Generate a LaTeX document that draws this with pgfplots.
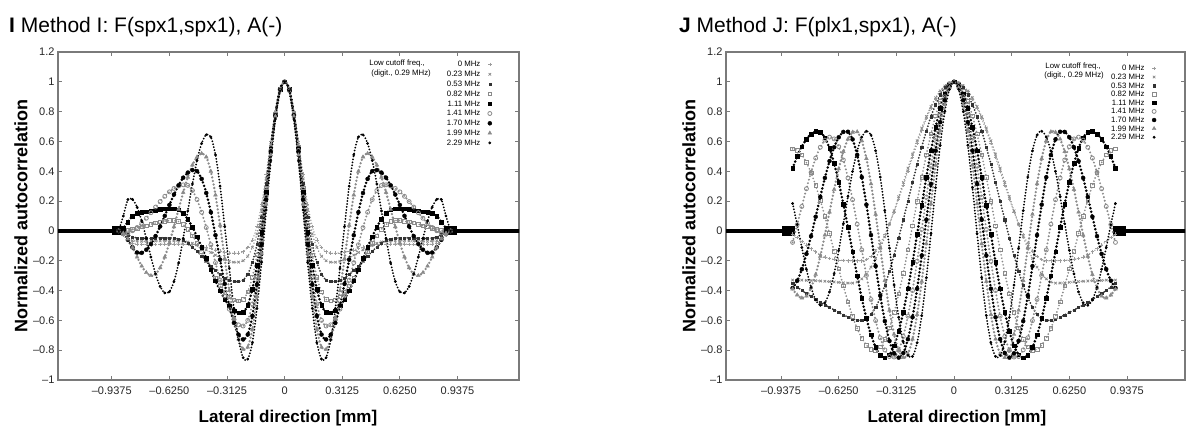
\documentclass[border=0pt]{standalone}
\usepackage{fontspec}
\setmainfont{Liberation Sans}
\usepackage{pgfplots}
\usepackage{pgfplotstable}
\pgfplotsset{compat=1.18}
\definecolor{mgray}{HTML}{8A8A8A}
\definecolor{framegray}{HTML}{7A7A7A}

\pgfplotstableread{
x a b c d e f g h i
-0.900 0 0 0 0 0 0 0 0 0
-0.875 -0.03 -0.025 -0.01 0.001 0.02 -0.02 -0.005 -0.015 0.10
-0.850 -0.06 -0.05 -0.025 0.005 0.06 -0.014 -0.06 -0.054 0.21
-0.825 -0.08 -0.065 -0.04 0.01 0.10 0.001 -0.11 -0.111 0.211
-0.800 -0.088 -0.068 -0.048 0.018 0.12 0.023 -0.145 -0.176 0.159
-0.775 -0.09 -0.07 -0.05 0.027 0.125 0.052 -0.147 -0.236 0.067
-0.750 -0.092 -0.07 -0.051 0.035 0.13 0.085 -0.126 -0.28 -0.05
-0.725 -0.093 -0.069 -0.05 0.045 0.135 0.122 -0.088 -0.30 -0.175
-0.700 -0.092 -0.068 -0.048 0.053 0.14 0.16 -0.035 -0.289 -0.288
-0.675 -0.09 -0.067 -0.047 0.06 0.145 0.197 0.03 -0.247 -0.373
-0.650 -0.088 -0.066 -0.047 0.066 0.148 0.232 0.101 -0.175 -0.416
-0.625 -0.087 -0.066 -0.048 0.069 0.15 0.262 0.174 -0.081 -0.408
-0.600 -0.087 -0.067 -0.05 0.07 0.15 0.285 0.244 0.028 -0.339
-0.575 -0.088 -0.068 -0.054 0.063 0.142 0.301 0.306 0.145 -0.215
-0.550 -0.09 -0.07 -0.065 0.043 0.117 0.309 0.357 0.258 -0.05
-0.525 -0.09 -0.074 -0.084 0.011 0.078 0.305 0.391 0.36 0.134
-0.500 -0.09 -0.083 -0.108 -0.032 0.025 0.271 0.408 0.442 0.315
-0.475 -0.094 -0.095 -0.137 -0.083 -0.038 0.21 0.401 0.496 0.473
-0.450 -0.10 -0.11 -0.168 -0.14 -0.109 0.125 0.349 0.519 0.587
-0.425 -0.109 -0.127 -0.202 -0.20 -0.185 0.022 0.254 0.496 0.645
-0.400 -0.118 -0.145 -0.235 -0.26 -0.261 -0.093 0.125 0.399 0.63
-0.375 -0.127 -0.163 -0.265 -0.317 -0.334 -0.213 -0.029 0.241 0.51
-0.350 -0.135 -0.18 -0.293 -0.368 -0.401 -0.33 -0.193 0.038 0.30
-0.325 -0.142 -0.193 -0.315 -0.411 -0.458 -0.436 -0.355 -0.186 0.03
-0.300 -0.147 -0.204 -0.33 -0.443 -0.503 -0.525 -0.50 -0.40 -0.25
-0.275 -0.15 -0.21 -0.338 -0.463 -0.534 -0.592 -0.617 -0.59 -0.52
-0.250 -0.15 -0.21 -0.34 -0.47 -0.549 -0.63 -0.696 -0.726 -0.73
-0.225 -0.14 -0.20 -0.33 -0.46 -0.545 -0.638 -0.728 -0.794 -0.85
-0.200 -0.11 -0.17 -0.29 -0.41 -0.50 -0.60 -0.695 -0.78 -0.86
-0.175 -0.06 -0.11 -0.21 -0.31 -0.39 -0.49 -0.57 -0.66 -0.75
-0.150 0.03 -0.02 -0.09 -0.16 -0.23 -0.31 -0.36 -0.44 -0.52
-0.125 0.18 0.14 0.09 0.04 -0.01 -0.06 -0.09 -0.15 -0.21
-0.100 0.38 0.35 0.32 0.29 0.26 0.23 0.21 0.18 0.14
-0.075 0.60 0.58 0.57 0.56 0.55 0.54 0.53 0.51 0.47
-0.050 0.80 0.79 0.79 0.785 0.78 0.78 0.775 0.77 0.75
-0.025 0.95 0.95 0.95 0.95 0.95 0.95 0.945 0.94 0.94
0.000 1 1 1 1 1 1 1 1 1
0.025 0.95 0.95 0.95 0.95 0.95 0.95 0.945 0.94 0.94
0.050 0.80 0.79 0.79 0.785 0.78 0.78 0.775 0.77 0.75
0.075 0.60 0.58 0.57 0.56 0.55 0.54 0.53 0.51 0.47
0.100 0.38 0.35 0.32 0.29 0.26 0.23 0.21 0.18 0.14
0.125 0.18 0.14 0.09 0.04 -0.01 -0.06 -0.09 -0.15 -0.21
0.150 0.03 -0.02 -0.09 -0.16 -0.23 -0.31 -0.36 -0.44 -0.52
0.175 -0.06 -0.11 -0.21 -0.31 -0.39 -0.49 -0.57 -0.66 -0.75
0.200 -0.11 -0.17 -0.29 -0.41 -0.50 -0.60 -0.695 -0.78 -0.86
0.225 -0.14 -0.20 -0.33 -0.46 -0.545 -0.638 -0.728 -0.794 -0.85
0.250 -0.15 -0.21 -0.34 -0.47 -0.549 -0.63 -0.696 -0.726 -0.73
0.275 -0.15 -0.21 -0.338 -0.463 -0.534 -0.592 -0.617 -0.59 -0.52
0.300 -0.147 -0.204 -0.33 -0.443 -0.503 -0.525 -0.50 -0.40 -0.25
0.325 -0.142 -0.193 -0.315 -0.411 -0.458 -0.436 -0.355 -0.186 0.03
0.350 -0.135 -0.18 -0.293 -0.368 -0.401 -0.33 -0.193 0.038 0.30
0.375 -0.127 -0.163 -0.265 -0.317 -0.334 -0.213 -0.029 0.241 0.51
0.400 -0.118 -0.145 -0.235 -0.26 -0.261 -0.093 0.125 0.399 0.63
0.425 -0.109 -0.127 -0.202 -0.20 -0.185 0.022 0.254 0.496 0.645
0.450 -0.10 -0.11 -0.168 -0.14 -0.109 0.125 0.349 0.519 0.587
0.475 -0.094 -0.095 -0.137 -0.083 -0.038 0.21 0.401 0.496 0.473
0.500 -0.09 -0.083 -0.108 -0.032 0.025 0.271 0.408 0.442 0.315
0.525 -0.09 -0.074 -0.084 0.011 0.078 0.305 0.391 0.36 0.134
0.550 -0.09 -0.07 -0.065 0.043 0.117 0.309 0.357 0.258 -0.05
0.575 -0.088 -0.068 -0.054 0.063 0.142 0.301 0.306 0.145 -0.215
0.600 -0.087 -0.067 -0.05 0.07 0.15 0.285 0.244 0.028 -0.339
0.625 -0.087 -0.066 -0.048 0.069 0.15 0.262 0.174 -0.081 -0.408
0.650 -0.088 -0.066 -0.047 0.066 0.148 0.232 0.101 -0.175 -0.416
0.675 -0.09 -0.067 -0.047 0.06 0.145 0.197 0.03 -0.247 -0.373
0.700 -0.092 -0.068 -0.048 0.053 0.14 0.16 -0.035 -0.289 -0.288
0.725 -0.093 -0.069 -0.05 0.045 0.135 0.122 -0.088 -0.30 -0.175
0.750 -0.092 -0.07 -0.051 0.035 0.13 0.085 -0.126 -0.28 -0.05
0.775 -0.09 -0.07 -0.05 0.027 0.125 0.052 -0.147 -0.236 0.067
0.800 -0.088 -0.068 -0.048 0.018 0.12 0.023 -0.145 -0.176 0.159
0.825 -0.08 -0.065 -0.04 0.01 0.10 0.001 -0.11 -0.111 0.211
0.850 -0.06 -0.05 -0.025 0.005 0.06 -0.014 -0.06 -0.054 0.21
0.875 -0.03 -0.025 -0.01 0.001 0.02 -0.02 -0.005 -0.015 0.10
0.900 0 0 0 0 0 0 0 0 0
}\tabL

\pgfplotstableread{
x a b c d e f g h i
-0.875 -0.02 -0.33 -0.35 0.55 0.42 -0.077 -0.383 -0.39 0.184
-0.850 -0.045 -0.33 -0.375 0.54 0.50 0.042 -0.334 -0.43 0.042
-0.825 -0.07 -0.33 -0.40 0.509 0.565 0.164 -0.257 -0.45 -0.111
-0.800 -0.095 -0.332 -0.42 0.458 0.615 0.283 -0.154 -0.437 -0.257
-0.775 -0.12 -0.333 -0.44 0.389 0.65 0.393 -0.035 -0.382 -0.379
-0.750 -0.14 -0.334 -0.46 0.304 0.668 0.488 0.095 -0.292 -0.463
-0.725 -0.16 -0.336 -0.48 0.206 0.664 0.561 0.228 -0.17 -0.499
-0.700 -0.175 -0.338 -0.497 0.097 0.626 0.609 0.355 -0.028 -0.482
-0.675 -0.185 -0.34 -0.513 -0.018 0.554 0.629 0.468 0.126 -0.409
-0.650 -0.19 -0.342 -0.53 -0.137 0.453 0.617 0.561 0.277 -0.288
-0.625 -0.195 -0.345 -0.547 -0.255 0.326 0.565 0.628 0.416 -0.13
-0.600 -0.198 -0.348 -0.563 -0.369 0.181 0.476 0.664 0.532 0.048
-0.575 -0.20 -0.35 -0.578 -0.476 0.024 0.355 0.665 0.616 0.231
-0.550 -0.20 -0.35 -0.59 -0.572 -0.139 0.209 0.614 0.662 0.399
-0.525 -0.20 -0.343 -0.598 -0.654 -0.30 0.045 0.509 0.665 0.536
-0.500 -0.20 -0.322 -0.60 -0.719 -0.451 -0.128 0.36 0.605 0.629
-0.475 -0.193 -0.289 -0.59 -0.766 -0.586 -0.299 0.176 0.485 0.669
-0.450 -0.171 -0.243 -0.561 -0.793 -0.697 -0.46 -0.028 0.316 0.643
-0.425 -0.135 -0.185 -0.513 -0.80 -0.781 -0.602 -0.236 0.111 0.537
-0.400 -0.085 -0.117 -0.447 -0.778 -0.833 -0.717 -0.434 -0.113 0.361
-0.375 -0.024 -0.04 -0.366 -0.728 -0.85 -0.798 -0.605 -0.333 0.136
-0.350 0.047 0.045 -0.27 -0.651 -0.83 -0.843 -0.738 -0.533 -0.116
-0.325 0.128 0.135 -0.163 -0.548 -0.77 -0.846 -0.821 -0.694 -0.363
-0.300 0.215 0.229 -0.047 -0.423 -0.673 -0.801 -0.85 -0.802 -0.58
-0.275 0.306 0.325 0.075 -0.283 -0.544 -0.708 -0.819 -0.849 -0.744
-0.250 0.40 0.421 0.20 -0.128 -0.388 -0.572 -0.726 -0.825 -0.835
-0.225 0.494 0.515 0.325 0.034 -0.211 -0.40 -0.579 -0.726 -0.842
-0.200 0.585 0.605 0.447 0.199 -0.022 -0.203 -0.388 -0.561 -0.75
-0.175 0.672 0.69 0.563 0.359 0.172 0.01 -0.165 -0.339 -0.568
-0.150 0.753 0.767 0.67 0.511 0.361 0.226 0.075 -0.086 -0.314
-0.125 0.824 0.835 0.766 0.65 0.538 0.434 0.315 0.182 -0.018
-0.100 0.885 0.893 0.847 0.771 0.694 0.622 0.538 0.441 0.29
-0.075 0.935 0.939 0.913 0.869 0.823 0.781 0.729 0.67 0.574
-0.050 0.971 0.972 0.961 0.94 0.92 0.90 0.876 0.847 0.801
-0.025 0.993 0.993 0.99 0.985 0.98 0.975 0.968 0.961 0.949
0.000 1 1 1 1 1 1 1 1 1
0.025 0.993 0.993 0.99 0.985 0.98 0.975 0.968 0.961 0.949
0.050 0.971 0.972 0.961 0.94 0.92 0.90 0.876 0.847 0.801
0.075 0.935 0.939 0.913 0.869 0.823 0.781 0.729 0.67 0.574
0.100 0.885 0.893 0.847 0.771 0.694 0.622 0.538 0.441 0.29
0.125 0.824 0.835 0.766 0.65 0.538 0.434 0.315 0.182 -0.018
0.150 0.753 0.767 0.67 0.511 0.361 0.226 0.075 -0.086 -0.314
0.175 0.672 0.69 0.563 0.359 0.172 0.01 -0.165 -0.339 -0.568
0.200 0.585 0.605 0.447 0.199 -0.022 -0.203 -0.388 -0.561 -0.75
0.225 0.494 0.515 0.325 0.034 -0.211 -0.40 -0.579 -0.726 -0.842
0.250 0.40 0.421 0.20 -0.128 -0.388 -0.572 -0.726 -0.825 -0.835
0.275 0.306 0.325 0.075 -0.283 -0.544 -0.708 -0.819 -0.849 -0.744
0.300 0.215 0.229 -0.047 -0.423 -0.673 -0.801 -0.85 -0.802 -0.58
0.325 0.128 0.135 -0.163 -0.548 -0.77 -0.846 -0.821 -0.694 -0.363
0.350 0.047 0.045 -0.27 -0.651 -0.83 -0.843 -0.738 -0.533 -0.116
0.375 -0.024 -0.04 -0.366 -0.728 -0.85 -0.798 -0.605 -0.333 0.136
0.400 -0.085 -0.117 -0.447 -0.778 -0.833 -0.717 -0.434 -0.113 0.361
0.425 -0.135 -0.185 -0.513 -0.80 -0.781 -0.602 -0.236 0.111 0.537
0.450 -0.171 -0.243 -0.561 -0.793 -0.697 -0.46 -0.028 0.316 0.643
0.475 -0.193 -0.289 -0.59 -0.766 -0.586 -0.299 0.176 0.485 0.669
0.500 -0.20 -0.322 -0.60 -0.719 -0.451 -0.128 0.36 0.605 0.629
0.525 -0.20 -0.343 -0.598 -0.654 -0.30 0.045 0.509 0.665 0.536
0.550 -0.20 -0.35 -0.59 -0.572 -0.139 0.209 0.614 0.662 0.399
0.575 -0.20 -0.35 -0.578 -0.476 0.024 0.355 0.665 0.616 0.231
0.600 -0.198 -0.348 -0.563 -0.369 0.181 0.476 0.664 0.532 0.048
0.625 -0.195 -0.345 -0.547 -0.255 0.326 0.565 0.628 0.416 -0.13
0.650 -0.19 -0.342 -0.53 -0.137 0.453 0.617 0.561 0.277 -0.288
0.675 -0.185 -0.34 -0.513 -0.018 0.554 0.629 0.468 0.126 -0.409
0.700 -0.175 -0.338 -0.497 0.097 0.626 0.609 0.355 -0.028 -0.482
0.725 -0.16 -0.336 -0.48 0.206 0.664 0.561 0.228 -0.17 -0.499
0.750 -0.14 -0.334 -0.46 0.304 0.668 0.488 0.095 -0.292 -0.463
0.775 -0.12 -0.333 -0.44 0.389 0.65 0.393 -0.035 -0.382 -0.379
0.800 -0.095 -0.332 -0.42 0.458 0.615 0.283 -0.154 -0.437 -0.257
0.825 -0.07 -0.33 -0.40 0.509 0.565 0.164 -0.257 -0.45 -0.111
0.850 -0.045 -0.33 -0.375 0.54 0.50 0.042 -0.334 -0.43 0.042
0.875 -0.02 -0.33 -0.35 0.55 0.42 -0.077 -0.383 -0.39 0.184
}\tabR

\pgfplotsset{
  sA/.style={only marks, mark=+, mark size=1.8pt, color=mgray!85, mark options={line width=0.6pt}},
  sB/.style={only marks, mark=x, mark size=1.8pt, color=mgray, mark options={line width=0.7pt}},
  sC/.style={only marks, mark=square*, mark size=1.1pt, color=black!80},
  sD/.style={only marks, mark=square, mark size=1.8pt, color=mgray, mark options={line width=0.7pt}},
  sE/.style={only marks, mark=square*, mark size=1.8pt, color=black},
  sF/.style={only marks, mark=o, mark size=2pt, color=mgray, mark options={line width=0.8pt}},
  sG/.style={only marks, mark=*, mark size=2pt, color=black},
  sH/.style={only marks, mark=triangle*, mark size=2.2pt, color=mgray},
  sI/.style={only marks, mark=*, mark size=1.2pt, color=black},
  dots/.style n args={3}{forget plot, no markers, smooth, tension=0.5, color=#1, line width=#2, line cap=round, dash pattern=on 0pt off #3},
  lA/.style={dots={mgray!85}{1.5pt}{3pt}},
  lB/.style={dots={mgray}{1.6pt}{3.2pt}},
  lC/.style={dots={black!80}{2pt}{3pt}},
  lD/.style={dots={mgray}{1.9pt}{3.4pt}},
  lE/.style={dots={black}{2.8pt}{3.6pt}},
  lF/.style={dots={mgray}{2.2pt}{3.6pt}},
  lG/.style={dots={black}{2.8pt}{3.6pt}},
  lH/.style={dots={mgray}{2.6pt}{3.6pt}},
  lI/.style={dots={black}{2pt}{3pt}},
  panel/.style={
    scale only axis, anchor=south west,
    ymin=-1, ymax=1.2,
    xtick={-0.9375,-0.625,-0.3125,0,0.3125,0.625,0.9375},
    xticklabels={–0.9375,–0.6250,–0.3125,0,0.3125,0.6250,0.9375},
    ytick={-1,-0.8,-0.6,-0.4,-0.2,0,0.2,0.4,0.6,0.8,1,1.2},
    yticklabels={–1,–0.8,–0.6,–0.4,–0.2,0,0.2,0.4,0.6,0.8,1,1.2},
    tick align=inside, tick pos=both,
    major tick length=4pt,
    tick style={framegray, line width=0.8pt},
    axis line style={framegray, line width=1.2pt},
    ticklabel style={font=\fontsize{11}{13}\selectfont, text=black!85},
    xticklabel style={yshift=-3pt},
    legend cell align=right, legend plot pos=right,
    legend image code/.code={\draw[mark repeat=2,mark phase=2,##1] plot coordinates {(0pt,0pt) (10pt,0pt) (20pt,0pt)};},
  },
}

\begin{document}
\begin{tikzpicture}
\useasboundingbox (0,0) rectangle (1190pt,430pt);

% ---------- Panel I ----------
\begin{axis}[panel, at={(58pt,50pt)}, width=461pt, height=328pt,
  xmin=-1.229, xmax=1.271,
  legend style={draw=none, fill=none, at={(0.948,0.982)}, anchor=north east,
    font=\fontsize{7.8}{9}\selectfont, row sep=1pt, column sep=7pt,
    nodes={inner sep=0.5pt, text height=6.3pt, text depth=1.5pt}}]
\addplot[black, line width=4pt, forget plot] coordinates {(-1.3,0) (-0.88,0)};
\addplot[black, line width=4pt, forget plot] coordinates {(0.88,0) (1.3,0)};
\addplot[black, line width=9pt, forget plot] coordinates {(-0.935,0) (-0.875,0)};
\addplot[black, line width=9pt, forget plot] coordinates {(0.875,0) (0.935,0)};
\addplot[lA] table[x=x,y=a] {\tabL};
\addplot[lB] table[x=x,y=b] {\tabL};
\addplot[lC] table[x=x,y=c] {\tabL};
\addplot[lD] table[x=x,y=d] {\tabL};
\addplot[lE] table[x=x,y=e] {\tabL};
\addplot[lF] table[x=x,y=f] {\tabL};
\addplot[lG] table[x=x,y=g] {\tabL};
\addplot[lH] table[x=x,y=h] {\tabL};
\addplot[lI] table[x=x,y=i] {\tabL};
\addplot[sA] table[x=x,y=a] {\tabL}; \addlegendentry{0 MHz}
\addplot[sB] table[x=x,y=b] {\tabL}; \addlegendentry{0.23 MHz}
\addplot[sC] table[x=x,y=c] {\tabL}; \addlegendentry{0.53 MHz}
\addplot[sD] table[x=x,y=d] {\tabL}; \addlegendentry{0.82 MHz}
\addplot[sE] table[x=x,y=e] {\tabL}; \addlegendentry{1.11 MHz}
\addplot[sF] table[x=x,y=f] {\tabL}; \addlegendentry{1.41 MHz}
\addplot[sG] table[x=x,y=g] {\tabL}; \addlegendentry{1.70 MHz}
\addplot[sH] table[x=x,y=h] {\tabL}; \addlegendentry{1.99 MHz}
\addplot[sI] table[x=x,y=i] {\tabL}; \addlegendentry{2.29 MHz}
\end{axis}

% ---------- Panel J ----------
\begin{axis}[panel, at={(726pt,50pt)}, width=459pt, height=328pt,
  xmin=-1.236, xmax=1.252,
  legend style={draw=none, fill=none, at={(0.944,0.970)}, anchor=north east,
    font=\fontsize{7.8}{9}\selectfont, row sep=-0.2pt, column sep=7pt,
    nodes={inner sep=0.5pt, text height=6.3pt, text depth=1.5pt}}]
\addplot[black, line width=4pt, forget plot] coordinates {(-1.3,0) (-0.86,0)};
\addplot[black, line width=4pt, forget plot] coordinates {(0.86,0) (1.3,0)};
\addplot[black, line width=10pt, forget plot] coordinates {(-0.93,0) (-0.86,0)};
\addplot[black, line width=10pt, forget plot] coordinates {(0.86,0) (0.93,0)};
\addplot[lA] table[x=x,y=a] {\tabR};
\addplot[lB] table[x=x,y=b] {\tabR};
\addplot[lC] table[x=x,y=c] {\tabR};
\addplot[lD] table[x=x,y=d] {\tabR};
\addplot[lE] table[x=x,y=e] {\tabR};
\addplot[lF] table[x=x,y=f] {\tabR};
\addplot[lG] table[x=x,y=g] {\tabR};
\addplot[lH] table[x=x,y=h] {\tabR};
\addplot[lI] table[x=x,y=i] {\tabR};
\addplot[sA] table[x=x,y=a] {\tabR}; \addlegendentry{0 MHz}
\addplot[sB] table[x=x,y=b] {\tabR}; \addlegendentry{0.23 MHz}
\addplot[sC] table[x=x,y=c] {\tabR}; \addlegendentry{0.53 MHz}
\addplot[sD] table[x=x,y=d] {\tabR}; \addlegendentry{0.82 MHz}
\addplot[sE] table[x=x,y=e] {\tabR}; \addlegendentry{1.11 MHz}
\addplot[sF] table[x=x,y=f] {\tabR}; \addlegendentry{1.41 MHz}
\addplot[sG] table[x=x,y=g] {\tabR}; \addlegendentry{1.70 MHz}
\addplot[sH] table[x=x,y=h] {\tabR}; \addlegendentry{1.99 MHz}
\addplot[sI] table[x=x,y=i] {\tabR}; \addlegendentry{2.29 MHz}
\end{axis}

% titles
\node[anchor=base west, font=\fontsize{21}{25}\selectfont, inner sep=0pt] at (9pt,397pt) {\textbf{I} Method I: F(spx1,spx1), A(-)};
\node[anchor=base west, font=\fontsize{21}{25}\selectfont, inner sep=0pt] at (679pt,397pt) {\textbf{J} Method J: F(plx1,spx1), A(-)};
% axis labels
\node[rotate=90, font=\bfseries\fontsize{18}{20}\selectfont, inner sep=0pt] at (21pt,214pt) {Normalized autocorrelation};
\node[rotate=90, font=\bfseries\fontsize{18}{20}\selectfont, inner sep=0pt] at (689pt,214pt) {Normalized autocorrelation};
\node[anchor=base, font=\bfseries\fontsize{17}{20}\selectfont, inner sep=0pt] at (288pt,7pt) {Lateral direction [mm]};
\node[anchor=base, font=\bfseries\fontsize{17}{20}\selectfont, inner sep=0pt] at (957pt,7pt) {Lateral direction [mm]};
% legend titles
\node[anchor=east, font=\fontsize{7.8}{9}\selectfont, inner sep=0pt] at (425pt,366.7pt) {Low cutoff freq.,};
\node[anchor=east, font=\fontsize{7.8}{9}\selectfont, inner sep=0pt] at (431pt,356.7pt) {(digit., 0.29 MHz)};
\node[anchor=east, font=\fontsize{7.8}{9}\selectfont, inner sep=0pt] at (1101pt,364pt) {Low cutoff freq.,};
\node[anchor=east, font=\fontsize{7.8}{9}\selectfont, inner sep=0pt] at (1104pt,355pt) {(digit., 0.29 MHz)};
\end{tikzpicture}
\end{document}
